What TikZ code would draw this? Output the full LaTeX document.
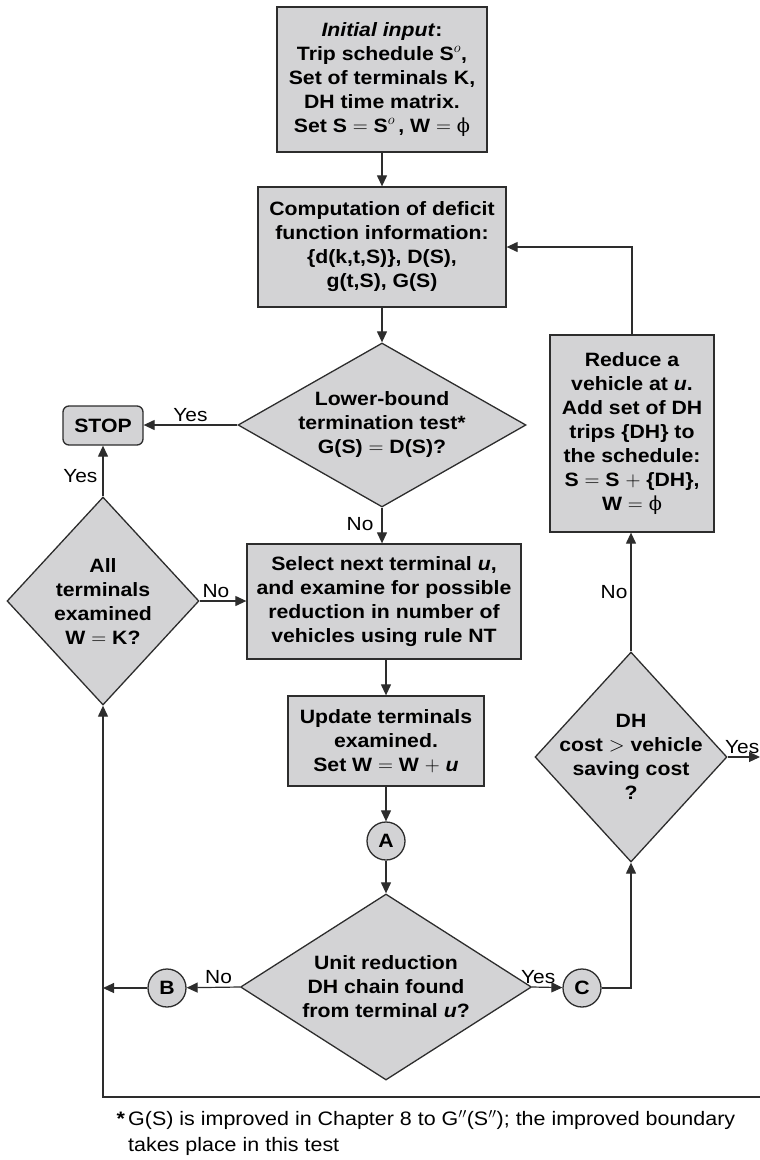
\documentclass[tikz,border=0pt]{standalone}
\usepackage{fontspec}
\setmainfont{Liberation Sans}[FakeStretch=1.1]
\newfontfamily\phiface{DejaVu Serif}
\usetikzlibrary{shapes.geometric,arrows.meta}

\definecolor{boxgray}{RGB}{211,211,213}
\definecolor{edgegray}{RGB}{45,45,45}

\newcommand{\boxfont}{\bfseries\fontsize{19.3}{24}\selectfont}
\newcommand{\answerfont}{\mdseries\fontsize{19}{22}\selectfont}
\newcommand{\emptyW}{{\phiface\mdseries\upshape ϕ}}
\newcommand{\sorig}{S$^{o}$}

\tikzset{
  process/.style={draw=edgegray, line width=1.3pt, fill=boxgray, align=center, inner sep=0pt, font=\boxfont},
  decision/.style={diamond, draw=edgegray, line width=1.3pt, fill=boxgray, inner sep=0pt},
  inside/.style={align=center, font=\boxfont, inner sep=0pt},
  joint/.style={circle, draw=edgegray, line width=1.3pt, fill=boxgray, minimum size=38pt, inner sep=0pt, font=\boxfont},
  flow/.style={draw=edgegray, line width=1.2pt, -{Triangle[length=11pt,width=10pt]}},
  answer/.style={font=\answerfont, inner sep=3pt}
}

\begin{document}
\begin{tikzpicture}[x=1pt,y=-1pt]
  \useasboundingbox (0,0) rectangle (760,1160);

  % 処理ボックス
  \node[process, minimum width=210pt, minimum height=145pt] (init) at (382,79.5)
    {\textit{Initial input}:\\ Trip schedule \sorig,\\ Set of terminals K,\\ DH time matrix.\\ Set S $=$ \sorig\,, W $=$ \emptyW};
  \node[process, minimum width=248pt, minimum height=120pt] (comp) at (382,247)
    {Computation of deficit\\ function information:\\ \{d(k,t,S)\}, D(S),\\ g(t,S), G(S)};
  \node[process, minimum width=274pt, minimum height=115pt] (sel) at (384,601.5)
    {Select next terminal \textit{u},\\ and examine for possible\\ reduction in number of\\ vehicles using rule NT};
  \node[process, minimum width=196pt, minimum height=90pt] (upd) at (386,741)
    {Update terminals\\ examined.\\ Set W $=$ W $+$ \textit{u}};
  \node[process, minimum width=164pt, minimum height=197pt] (red) at (632,433.5)
    {Reduce a\\ vehicle at \textit{u}.\\ Add set of DH\\ trips \{DH\} to\\ the schedule:\\ S $=$ S $+$ \{DH\},\\ W $=$ \emptyW};
  \node[process, rounded corners=6pt, minimum width=80pt, minimum height=39pt] (stop) at (103,425.5) {STOP};

  % 判定
  \node[decision, minimum width=288pt, minimum height=164pt,
    label={[inside]center:{Lower-bound\\ termination test*\\ G(S) $=$ D(S)?}}] (lbtest) at (382,425) {};
  \node[decision, minimum width=192pt, minimum height=208pt,
    label={[inside]center:{All\\ terminals\\ examined\\ W $=$ K?}}] (alltest) at (103,601) {};
  \node[decision, minimum width=291pt, minimum height=186pt,
    label={[inside]center:{Unit reduction\\ DH chain found\\ from terminal \textit{u}?}}] (unit) at (386,987) {};
  \node[decision, minimum width=192pt, minimum height=210pt,
    label={[inside]center:{DH\\ cost $>$ vehicle\\ saving cost\\ ?}}] (dh) at (631,757) {};

  % 結合子
  \node[joint] (ja) at (386,841) {A};
  \node[joint] (jb) at (167,988) {B};
  \node[joint] (jc) at (582,988) {C};

  % 画面の右端
  \coordinate (yesout) at (760,757);
  \coordinate (loopin) at (760,1097);

  % 矢印
  \draw[flow] (init) -- (comp);
  \draw[flow] (comp) -- (lbtest);
  \draw[flow] (lbtest.west) -- node[answer, above] (lbyes) {Yes} (lbtest.west -| stop.east);
  \draw[flow] (lbtest.south) -- node[answer, left, pos=0.45, inner xsep=8pt] (lbno) {No} (lbtest.south |- sel.north);
  \draw[flow] (alltest.north) -- node[answer, left, pos=0.4, inner xsep=5pt] (allyes) {Yes} (stop.south);
  \draw[flow] (alltest.east) -- node[answer, above, pos=0.35] (allno) {No} (alltest.east -| sel.west);
  \draw[flow] (sel.south -| upd.north) -- (upd.north);
  \draw[flow] (upd) -- (ja);
  \draw[flow] (ja) -- (unit);
  \draw[flow] (unit.west) -- node[answer, above, pos=0.4] (unitno) {No} (jb);
  \draw[flow] (jb) -- (jb -| alltest.south);
  \draw[flow] (unit.east) -- node[answer, above, pos=0.2] (unityes) {Yes} (jc);
  \draw[flow] (jc.east) -- (jc.east -| dh.south) -- (dh.south);
  \draw[flow] (dh.north) -- node[answer, left, pos=0.5] (dhno) {No} (dh.north |- red.south);
  \draw[flow] (red.north) |- (comp.east);
  \draw[flow] (dh.east) -- node[answer, above, pos=0.45] (dhyes) {Yes} (yesout);
  \draw[flow] (loopin) -| (alltest.south);

  % 注
  \node[anchor=north west, align=left, inner sep=0pt, font=\fontsize{19.5}{26}\selectfont] (note) at (128,1110)
    {\llap{\textbf{*}\,}G(S) is improved in Chapter 8 to G$''$(S$''$); the improved boundary\\ takes place in this test};
\end{tikzpicture}
\end{document}
